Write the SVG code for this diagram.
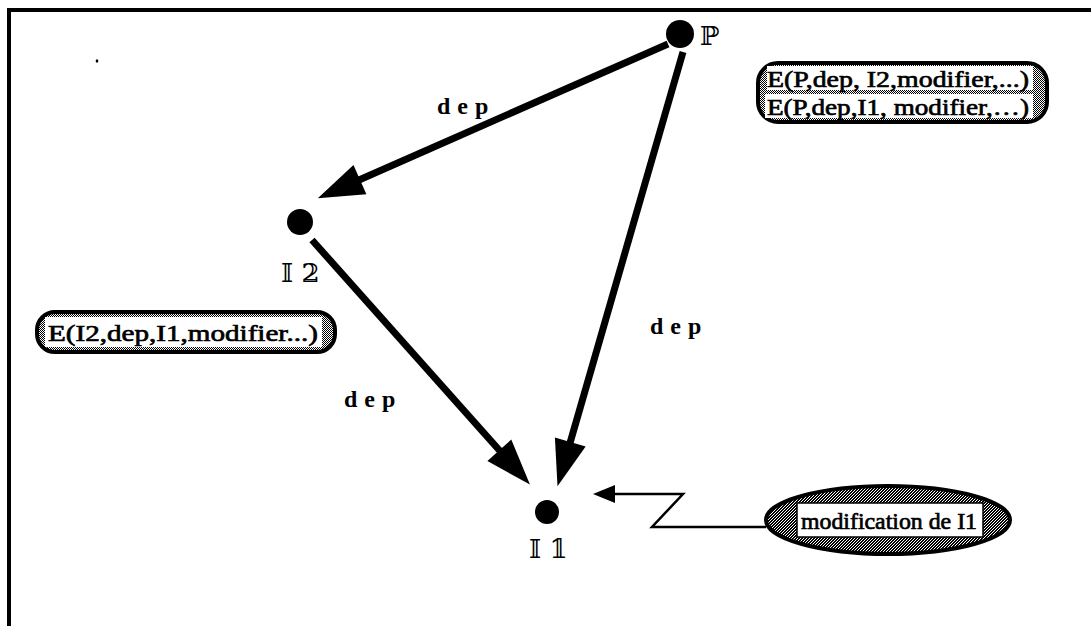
<svg xmlns="http://www.w3.org/2000/svg" width="1091" height="626" viewBox="0 0 1091 626">
  <style>
    .frame { fill: none; stroke: #000; stroke-width: 4; }
    .dot { fill: #000; }
    .edge { fill: none; stroke: #000; stroke-width: 7; stroke-linecap: butt; }
    .thin { fill: none; stroke: #000; stroke-width: 2.5; stroke-linejoin: miter; }
    .lbl { font-family: "Liberation Serif", "Times New Roman", serif; font-weight: bold; font-size: 24px; letter-spacing: 7px; fill: #000; }
    .ds { font-family: "DejaVu Serif", "DejaVu Sans", serif; font-size: 26px; fill: #000; }
    .shell { fill: url(#halftone); stroke: #000; stroke-width: 4; }
    .shell-dark { fill: url(#halftone-dark); stroke: #000; stroke-width: 4; }
    .slot { fill: #fff; stroke: none; }
    .slotb { fill: #fff; stroke: #000; stroke-width: 1.5; }
    .t { font-family: "Liberation Serif", "Times New Roman", serif; font-size: 24px; fill: #000; stroke: #000; stroke-width: 0.7; }
  </style>
  <defs>
    <pattern id="halftone" width="2" height="2" patternUnits="userSpaceOnUse">
      <rect width="2" height="2" fill="#fff"/>
      <rect width="1" height="1" fill="#000"/>
      <rect x="1" y="1" width="1" height="1" fill="#000"/>
    </pattern>
    <pattern id="halftone-dark" width="3" height="3" patternUnits="userSpaceOnUse">
      <rect width="3" height="3" fill="#000"/>
      <rect width="1" height="1" fill="#fff"/>
      <rect x="2" y="1" width="1" height="1" fill="#fff"/>
      <rect x="1" y="2" width="1" height="1" fill="#fff"/>
    </pattern>
    <marker id="big" markerUnits="userSpaceOnUse" markerWidth="48" markerHeight="36" refX="1" refY="18" orient="auto" overflow="visible">
      <path d="M0,2 L46,18 L0,34 Z" fill="#000"/>
    </marker>
    <marker id="small" markerUnits="userSpaceOnUse" markerWidth="24" markerHeight="20" refX="1" refY="10" orient="auto" overflow="visible">
      <path d="M0,1 L22,10 L0,19 Z" fill="#000"/>
    </marker>
  </defs>

  <rect width="1091" height="626" fill="#fff"/>
  <path class="frame" d="M9,626 V10 H1091"/>
  <ellipse cx="97" cy="61" rx="1.3" ry="1.8" fill="#000"/>

  <!-- dependency edges -->
  <g id="connectors">
    <path class="edge" d="M668,44 L359,180" marker-end="url(#big)"/>
    <path class="edge" d="M312,240 L500,451" marker-end="url(#big)"/>
    <path class="edge" d="M683,52 L570,443" marker-end="url(#big)"/>
    <path class="thin" d="M766,527 H652 L683,494 H614" marker-end="url(#small)"/>
    <text class="lbl" x="437" y="114">dep</text>
    <text class="lbl" x="650" y="334">dep</text>
    <text class="lbl" x="344" y="407">dep</text>
  </g>

  <g id="node-P">
    <circle class="dot" cx="680" cy="34" r="14"/>
    <text class="ds" x="700" y="45">ℙ</text>
  </g>

  <g id="node-I2">
    <circle class="dot" cx="300" cy="222" r="13"/>
    <text class="ds" x="281" y="282">𝕀 𝟚</text>
  </g>

  <g id="node-I1">
    <circle class="dot" cx="547" cy="512" r="12"/>
    <text class="ds" x="529" y="558">𝕀 𝟙</text>
  </g>

  <g id="events-P">
    <rect class="shell" x="758" y="63" width="289" height="59" rx="20"/>
    <rect class="slot" x="767" y="66" width="266" height="24"/>
    <rect class="slot" x="765" y="94" width="268" height="24"/>
    <text class="t" x="767" y="87" textLength="262" lengthAdjust="spacingAndGlyphs">E(P,dep, I2,modifier,...)</text>
    <text class="t" x="767" y="115" textLength="262" lengthAdjust="spacingAndGlyphs">E(P,dep,I1, modifier,…)</text>
  </g>

  <g id="events-I2">
    <rect class="shell" x="37" y="312" width="298" height="40" rx="18"/>
    <rect class="slot" x="45" y="317" width="277" height="30"/>
    <text class="t" x="48" y="341" textLength="270" lengthAdjust="spacingAndGlyphs">E(I2,dep,I1,modifier...)</text>
  </g>

  <g id="modification">
    <ellipse class="shell-dark" cx="888" cy="520" rx="122" ry="34"/>
    <rect class="slotb" x="797" y="503" width="186" height="34"/>
    <text class="t" x="801" y="529" textLength="176" lengthAdjust="spacingAndGlyphs">modification de I1</text>
  </g>
</svg>
